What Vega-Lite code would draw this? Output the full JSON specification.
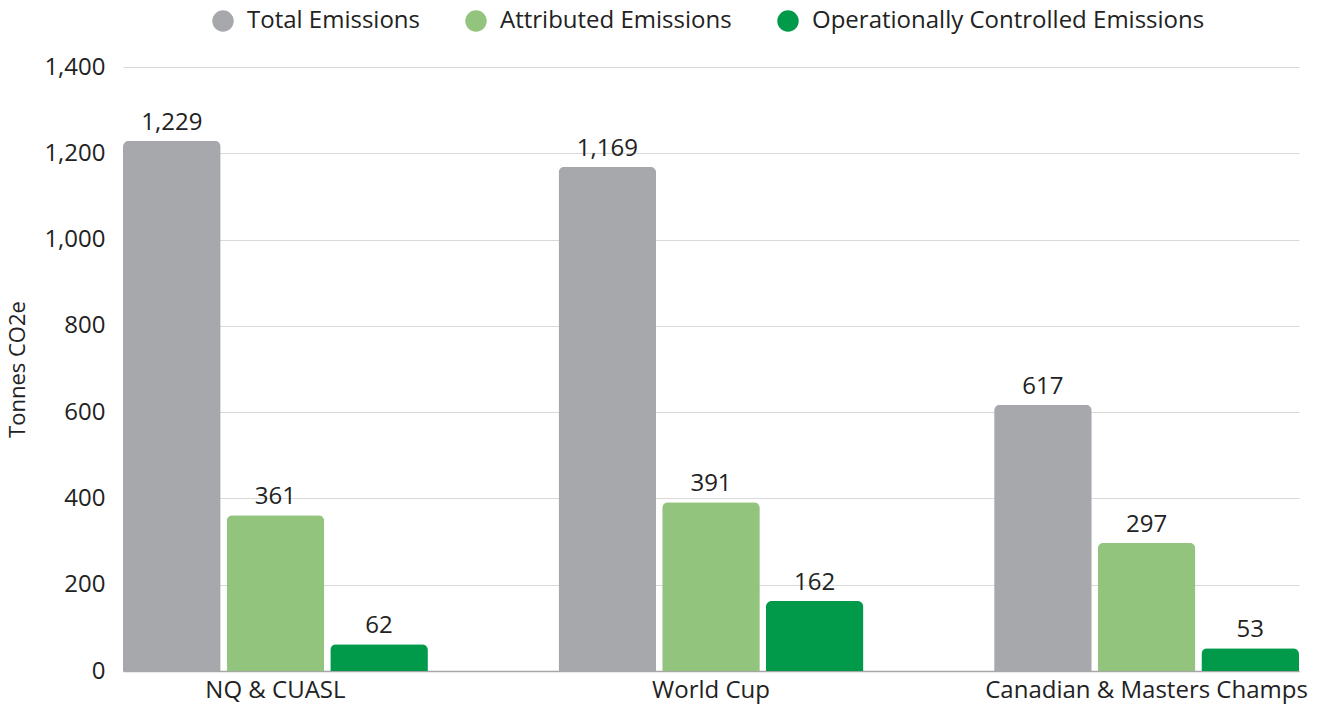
{
  "$schema": "https://vega.github.io/schema/vega-lite/v6.json",
  "width": 1176,
  "height": 604,
  "autosize": {"type": "none"},
  "padding": {"left": 123, "top": 67, "right": 20, "bottom": 37},
  "background": "white",
  "config": {
    "font": "Open Sans",
    "view": {"stroke": null},
    "axis": {"labelFont": "Open Sans", "titleFont": "Open Sans", "labelColor": "#222222", "titleColor": "#222222"},
    "legend": {"labelFont": "Open Sans"}
  },
  "data": {
    "values": [
      {"event": "NQ & CUASL", "type": "Total Emissions", "value": 1229},
      {"event": "NQ & CUASL", "type": "Attributed Emissions", "value": 361},
      {"event": "NQ & CUASL", "type": "Operationally Controlled Emissions", "value": 62},
      {"event": "World Cup", "type": "Total Emissions", "value": 1169},
      {"event": "World Cup", "type": "Attributed Emissions", "value": 391},
      {"event": "World Cup", "type": "Operationally Controlled Emissions", "value": 162},
      {"event": "Canadian & Masters Champs", "type": "Total Emissions", "value": 617},
      {"event": "Canadian & Masters Champs", "type": "Attributed Emissions", "value": 297},
      {"event": "Canadian & Masters Champs", "type": "Operationally Controlled Emissions", "value": 53}
    ]
  },
  "encoding": {
    "x": {
      "field": "event", "type": "nominal", "sort": null,
      "scale": {"paddingInner": 0.3, "paddingOuter": 0},
      "axis": {"title": null, "labelAngle": 0, "labelFontSize": 24, "labelLimit": 0, "ticks": false, "labelPadding": 7, "domainColor": "#a6a6a6", "domainWidth": 1.5, "grid": false}
    },
    "xOffset": {
      "field": "type", "type": "nominal",
      "sort": ["Total Emissions", "Attributed Emissions", "Operationally Controlled Emissions"],
      "scale": {"paddingInner": 0.058, "paddingOuter": 0}
    },
    "y": {
      "field": "value", "type": "quantitative",
      "scale": {"domain": [0, 1400]},
      "axis": {"title": "Tonnes CO2e", "titleFontSize": 22, "titleFontWeight": "normal", "titlePadding": 14, "labelFontSize": 24, "values": [0,200,400,600,800,1000,1200,1400], "format": ",.0f", "labelOverlap": false, "ticks": false, "domain": false, "labelPadding": 18, "gridColor": "#d9d9d9", "gridWidth": 1}
    }
  },
  "layer": [
    {
      "mark": {"type": "bar", "cornerRadiusTopLeft": 6, "cornerRadiusTopRight": 6},
      "encoding": {
        "color": {
          "field": "type", "type": "nominal",
          "sort": ["Total Emissions", "Attributed Emissions", "Operationally Controlled Emissions"],
          "scale": {"domain": ["Total Emissions", "Attributed Emissions", "Operationally Controlled Emissions"], "range": ["#a7a8ab", "#93c47d", "#009a4a"]},
          "legend": {"title": null, "orient": "none", "legendX": 88, "legendY": -58, "direction": "horizontal", "symbolType": "circle", "symbolSize": 460, "labelFontSize": 24, "labelLimit": 0, "labelColor": "#222222", "columnPadding": 44, "symbolStrokeWidth": 0, "labelOffset": 12}
        }
      }
    },
    {
      "mark": {"type": "text", "baseline": "alphabetic", "dy": -11, "fontSize": 24, "color": "#222222"},
      "encoding": {
        "text": {"field": "value", "type": "quantitative", "format": ","}
      }
    }
  ]
}
